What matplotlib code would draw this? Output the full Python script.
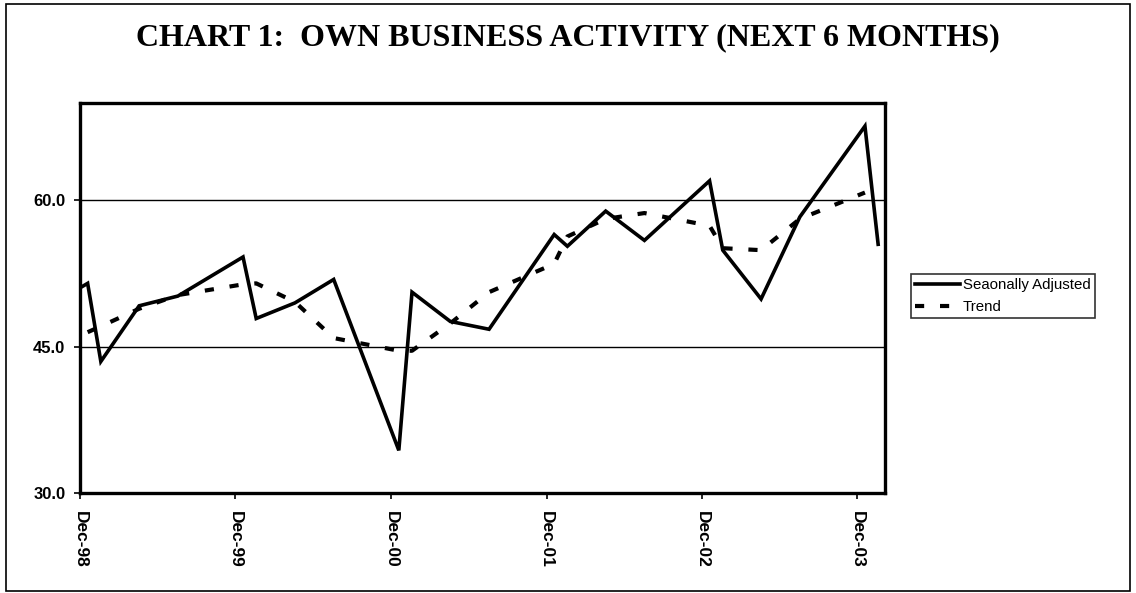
import matplotlib
matplotlib.use("Agg")
import matplotlib.pyplot as plt
import matplotlib.dates as mdates
import pandas as pd
from matplotlib.patches import Rectangle

# survey dates (Dec, Jan, Apr, Jul each year); first point lies left of the axis start
sa_dates = ["1998-07-19", "1998-12-19", "1999-01-19", "1999-04-19", "1999-07-19",
            "1999-12-19", "2000-01-19", "2000-04-19", "2000-07-19",
            "2000-12-19", "2001-01-19", "2001-04-19", "2001-07-19",
            "2001-12-19", "2002-01-19", "2002-04-19", "2002-07-19",
            "2002-12-19", "2003-01-19", "2003-04-19", "2003-07-19",
            "2003-12-19", "2004-01-19"]
sa_values = [47.6, 51.5, 43.5, 49.2, 50.2,
             54.2, 47.9, 49.5, 51.9,
             34.4, 50.6, 47.6, 46.8,
             56.5, 55.3, 58.9, 55.9,
             62.0, 54.9, 49.9, 58.3,
             67.6, 55.5]

trend_dates = sa_dates[1:-1]
trend_values = [46.5, 47.1, 48.9, 50.3,
                51.4, 51.5, 49.6, 45.9,
                44.6, 44.6, 47.4, 50.6,
                53.5, 56.3, 58.1, 58.7,
                57.4, 55.1, 54.9, 58.1,
                60.8]

tick_dates = ["1998-12-01", "1999-12-01", "2000-12-01", "2001-12-01", "2002-12-01", "2003-12-01"]
y_ticks = [30, 45, 60]

title = "CHART 1:  OWN BUSINESS ACTIVITY (NEXT 6 MONTHS)"

fig = plt.figure(figsize=(11.36, 5.93), dpi=100)
fig.patches.append(Rectangle((0.005, 0.004), 0.99, 0.99, transform=fig.transFigure,
                             fill=False, edgecolor="black", linewidth=1.2))

ax = fig.add_axes([0.0704, 0.1681, 0.7086, 0.6587])

ax.plot(pd.to_datetime(sa_dates), sa_values, color="black", linewidth=2.6,
        solid_joinstyle="miter", label="Seaonally Adjusted")
ax.plot(pd.to_datetime(trend_dates), trend_values, color="black", linewidth=3,
        dashes=(2.2, 3.8), label="Trend")

ax.set_xlim(pd.Timestamp("1998-12-01"), pd.Timestamp("2004-02-04"))
ax.set_ylim(30, 70)
ax.set_yticks(y_ticks)
ax.set_yticklabels([f"{v:.1f}" for v in y_ticks])
ax.set_xticks(pd.to_datetime(tick_dates))
ax.xaxis.set_major_formatter(mdates.DateFormatter("%b-%y"))

for v in y_ticks[1:]:
    ax.axhline(v, color="black", linewidth=1, zorder=0)

for side in ax.spines.values():
    side.set_linewidth(2.4)

ax.tick_params(axis="both", direction="out", length=4.5, width=1.2, color="black")
ax.tick_params(axis="x", pad=8)
ax.tick_params(axis="y", pad=6)
for lbl in ax.get_yticklabels():
    lbl.set_fontfamily("Liberation Sans")
    lbl.set_fontweight("bold")
    lbl.set_fontsize(12)
for lbl in ax.get_xticklabels():
    lbl.set_fontfamily("Liberation Sans")
    lbl.set_fontweight("bold")
    lbl.set_fontsize(12.5)
    lbl.set_rotation(270)
    lbl.set_va("top")
    lbl.set_ha("center")

fig.text(0.5, 0.936, title, ha="center", va="center",
         family="Liberation Serif", fontweight="bold", fontsize=23)

leg = ax.legend(loc="center left", bbox_to_anchor=(1.023, 0.505), frameon=True,
                fancybox=False, edgecolor="black", handlelength=3.0,
                handletextpad=0.15, borderpad=0.3, labelspacing=0.5,
                prop={"family": "Liberation Sans", "size": 10.8})
leg.get_frame().set_linewidth(1.2)

fig.savefig("out.png", dpi=100)
